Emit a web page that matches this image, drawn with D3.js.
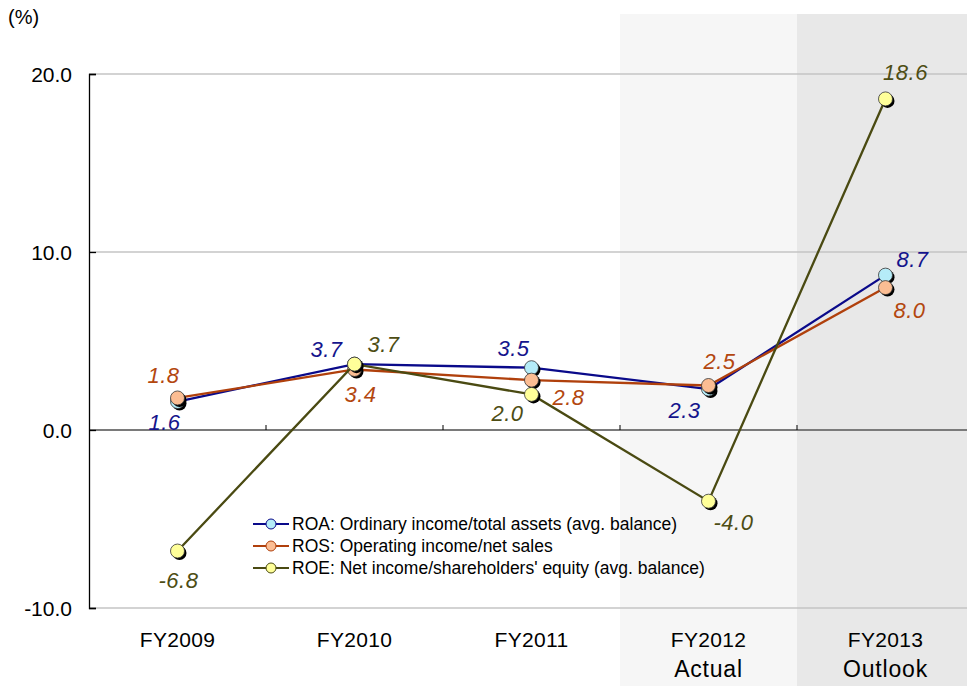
<!DOCTYPE html>
<html>
<head>
<meta charset="utf-8">
<script src="https://cdn.jsdelivr.net/npm/d3@7"></script>
<style>
  body { margin: 0; background: #fff; }
  text { font-family: "Liberation Sans", Arial, sans-serif; }
</style>
</head>
<body>
<div id="chart"></div>
<script>
// data
var years = ["FY2009", "FY2010", "FY2011", "FY2012", "FY2013"];
var subLabels = ["", "", "", "Actual", "Outlook"];
var roa = [1.6, 3.7, 3.5, 2.3, 8.7];
var ros = [1.8, 3.4, 2.8, 2.5, 8.0];
var roe = [-6.8, 3.7, 2.0, -4.0, 18.6];
var yTicks = [20, 10, 0, -10];

var width = 967, height = 686;

var svg = d3.select("#chart")
    .append("svg")
    .attr("width", width)
    .attr("height", height)

var x = d3.scaleBand()
    .domain(years)
    .range([89, 974])

var y = d3.scaleLinear()
    .domain([-10, 20])
    .range([608, 74])

var fmt = function (d) { return d.toFixed(1) }  // keep plain hyphen for negatives

// shaded columns for actual / outlook
svg.append("rect")
    .attr("x", x("FY2012")).attr("y", 14)
    .attr("width", x.bandwidth()).attr("height", height - 14)
    .attr("fill", "#f6f6f6")
svg.append("rect")
    .attr("x", x("FY2013")).attr("y", 14)
    .attr("width", x.bandwidth() + 10).attr("height", height - 14)
    .attr("fill", "#e8e8e8")

// gridlines
svg.append("g")
    .selectAll("line")
    .data(yTicks.filter(d => d != 0))
    .enter()
    .append("line")
    .attr("x1", 89).attr("x2", width)
    .attr("y1", d => y(d)).attr("y2", d => y(d))
    .attr("stroke", "#c4c4c4")
    .attr("stroke-width", 1.3)

// zero line
svg.append("line")
    .attr("x1", 89).attr("x2", width)
    .attr("y1", y(0)).attr("y2", y(0))
    .attr("stroke", "#7a7a7a")
    .attr("stroke-width", 2)

// category ticks on the zero line
svg.append("g")
    .selectAll("line")
    .data(years.slice(1))
    .enter()
    .append("line")
    .attr("x1", d => x(d)).attr("x2", d => x(d))
    .attr("y1", y(0) - 5).attr("y2", y(0))
    .attr("stroke", "#000")
    .attr("stroke-width", 1)

// y axis
var yAxis = d3.axisRight(y)
    .tickValues(yTicks)
    .tickSize(7)
    .tickFormat("")
var yg = svg.append("g")
    .attr("transform", "translate(89,0)")
    .call(yAxis)
yg.select(".domain").attr("stroke", "#000").attr("stroke-width", 1.3)
yg.selectAll(".tick line").attr("stroke", "#000").attr("stroke-width", 1.3)

svg.append("g")
    .selectAll("text")
    .data(yTicks)
    .enter()
    .append("text")
    .attr("x", 72)
    .attr("y", d => y(d) + 8)
    .attr("text-anchor", "end")
    .attr("font-size", 21)
    .attr("fill", "#000")
    .text(fmt)

svg.append("text")
    .attr("x", 8).attr("y", 24)
    .attr("font-size", 20)
    .text("(%)")

// x labels
var xl = svg.append("g")
xl.selectAll(".yr")
    .data(years)
    .enter()
    .append("text")
    .attr("x", d => x(d) + x.bandwidth() / 2)
    .attr("y", 647)
    .attr("text-anchor", "middle")
    .attr("font-size", 21)
    .attr("letter-spacing", 0.3)
    .text(d => d)
xl.selectAll(".sub")
    .data(subLabels)
    .enter()
    .append("text")
    .attr("x", (d, i) => x(years[i]) + x.bandwidth() / 2)
    .attr("y", 677)
    .attr("text-anchor", "middle")
    .attr("font-size", 23)
    .attr("letter-spacing", 0.8)
    .text(d => d)

var series = [
    { name: "ROA: Ordinary income/total assets (avg. balance)", values: roa,
      line: "#0a0a8a", fill: "#b5ecf8", label: "#14148c",
      off: [[-13, 28], [-28, -7], [-18, -12], [-24, 29], [27, -8]] },
    { name: "ROS: Operating income/net sales", values: ros,
      line: "#b0400c", fill: "#fbbd93", label: "#b3470f",
      off: [[-14, -15], [6, 33], [37, 25], [11, -17], [24, 30]] },
    { name: "ROE: Net income/shareholders' equity (avg. balance)", values: roe,
      line: "#4a4a12", fill: "#ffff99", label: "#4d4d14",
      off: [[1, 37], [29, -12], [-24, 27], [25, 29], [20, -19]] }
];

var cx = function (i) { return x(years[i]) + x.bandwidth() / 2 }
var line = d3.line()
    .x((d, i) => cx(i))
    .y(d => y(d))

series.forEach(function (s) {
    var g = svg.append("g")
    g.append("path")
        .datum(s.values)
        .attr("d", line)
        .attr("fill", "none")
        .attr("stroke", s.line)
        .attr("stroke-width", 2.3)
    // shadow
    g.selectAll(".sh")
        .data(s.values)
        .enter()
        .append("circle")
        .attr("cx", (d, i) => cx(i) + 2)
        .attr("cy", d => y(d) + 2)
        .attr("r", 7)
        .attr("fill", "#000")
    g.selectAll(".pt")
        .data(s.values)
        .enter()
        .append("circle")
        .attr("cx", (d, i) => cx(i))
        .attr("cy", d => y(d))
        .attr("r", 7)
        .attr("fill", s.fill)
        .attr("stroke", "#333")
        .attr("stroke-width", 0.8)
})

// data labels on top
series.forEach(function (s) {
    svg.append("g")
        .selectAll("text")
        .data(s.values)
        .enter()
        .append("text")
        .attr("x", (d, i) => cx(i) + s.off[i][0])
        .attr("y", (d, i) => y(d) + s.off[i][1])
        .attr("text-anchor", "middle")
        .attr("font-size", 22)
        .attr("font-style", "italic")
        .attr("letter-spacing", 0.5)
        .attr("fill", s.label)
        .text(fmt)
})

// legend
var lg = svg.append("g")
    .selectAll("g")
    .data(series)
    .enter()
    .append("g")
    .attr("transform", (d, i) => "translate(253," + (524 + i * 22) + ")")
lg.append("line")
    .attr("x1", 0).attr("x2", 36)
    .attr("stroke", d => d.line)
    .attr("stroke-width", 2)
lg.append("circle")
    .attr("cx", 18).attr("r", 5)
    .attr("fill", d => d.fill)
    .attr("stroke", d => d.line)
    .attr("stroke-width", 1)
lg.append("text")
    .attr("x", 39).attr("y", 6)
    .attr("font-size", 17.5)
    .text(d => d.name)
</script>
</body>
</html>
